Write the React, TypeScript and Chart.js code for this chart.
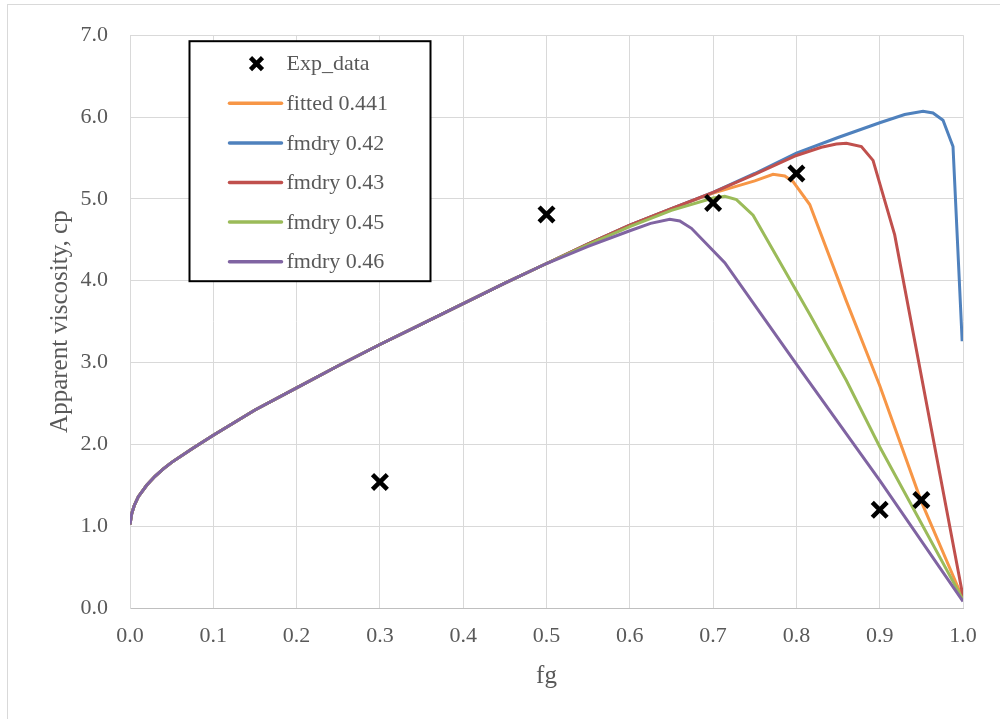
import React, { useEffect, useRef } from "react";
import { Chart, registerables } from "chart.js";

Chart.register(...registerables);

// ---- data ----
const BASE_FG = [0, 0.002, 0.005, 0.01, 0.02, 0.03, 0.04, 0.05, 0.075, 0.1, 0.15, 0.2, 0.25, 0.3, 0.35, 0.4, 0.45, 0.5];
const BASE_VISC = [1.02, 1.15, 1.25, 1.36, 1.5, 1.61, 1.7, 1.78, 1.95, 2.11, 2.42, 2.69, 2.96, 3.22, 3.47, 3.72, 3.97, 4.21];

const EXP_FG = [0.3, 0.5, 0.7, 0.8, 0.9, 0.95];
const EXP_VISC = [1.54, 4.81, 4.95, 5.31, 1.2, 1.32];

const FITTED_FG = [0.55, 0.6, 0.65, 0.7, 0.75, 0.772, 0.786, 0.796, 0.816, 0.86, 0.9, 0.95, 1.0];
const FITTED_VISC = [4.45, 4.68, 4.88, 5.07, 5.22, 5.3, 5.28, 5.21, 4.93, 3.75, 2.72, 1.3, 0.11];

const F042_FG = [0.55, 0.6, 0.65, 0.7, 0.75, 0.8, 0.85, 0.9, 0.93, 0.952, 0.964, 0.976, 0.988, 0.999];
const F042_VISC = [4.45, 4.68, 4.88, 5.08, 5.31, 5.56, 5.75, 5.93, 6.03, 6.07, 6.05, 5.96, 5.64, 3.26];

const F043_FG = [0.55, 0.6, 0.65, 0.7, 0.75, 0.8, 0.83, 0.848, 0.86, 0.878, 0.892, 0.918, 1.0];
const F043_VISC = [4.45, 4.68, 4.88, 5.08, 5.3, 5.53, 5.63, 5.67, 5.68, 5.64, 5.47, 4.56, 0.14];

const F045_FG = [0.55, 0.6, 0.65, 0.7, 0.714, 0.728, 0.748, 0.816, 0.86, 0.9, 1.0];
const F045_VISC = [4.44, 4.66, 4.86, 5.01, 5.03, 4.99, 4.8, 3.59, 2.78, 1.97, 0.1];

const F046_FG = [0.55, 0.6, 0.625, 0.648, 0.66, 0.674, 0.714, 0.8, 0.9, 1.0];
const F046_VISC = [4.42, 4.61, 4.7, 4.75, 4.73, 4.64, 4.22, 2.98, 1.56, 0.08];

const LABELS = ["Exp_data", "fitted 0.441", "fmdry 0.42", "fmdry 0.43", "fmdry 0.45", "fmdry 0.46"];
const COLORS = ["#000000", "#F79646", "#4F81BD", "#C0504D", "#9BBB59", "#8064A2"];

const X_TITLE = "fg";
const Y_TITLE = "Apparent viscosity, cp";

const toPts = (xs: number[], ys: number[]) => xs.map((x, i) => ({ x, y: ys[i] }));
const withBase = (xs: number[], ys: number[]) => toPts([...BASE_FG, ...xs], [...BASE_VISC, ...ys]);

const FONT = "'Liberation Serif', 'Times New Roman', serif";
const TEXT = "#595959";

const legendPlugin = {
  id: "boxLegend",
  afterDraw(chart: any) {
    const { ctx, chartArea } = chart;
    const left = chartArea.left + 59.5;
    const top = chartArea.top + 6;
    const w = 241;
    const h = 240;
    ctx.save();
    ctx.fillStyle = "#ffffff";
    ctx.fillRect(left, top, w, h);
    ctx.strokeStyle = "#000000";
    ctx.lineWidth = 2;
    ctx.strokeRect(left, top, w, h);
    ctx.font = `22px ${FONT}`;
    ctx.textBaseline = "middle";
    ctx.textAlign = "left";
    LABELS.forEach((label, i) => {
      const cy = top + 22.5 + i * 39.6;
      const color = COLORS[i];
      if (i === 0) {
        const cx = left + 67;
        const r = 6;
        ctx.strokeStyle = color;
        ctx.lineWidth = 4.5;
        ctx.lineCap = "butt";
        ctx.beginPath();
        ctx.moveTo(cx - r, cy - r);
        ctx.lineTo(cx + r, cy + r);
        ctx.moveTo(cx - r, cy + r);
        ctx.lineTo(cx + r, cy - r);
        ctx.stroke();
      } else {
        ctx.strokeStyle = color;
        ctx.lineWidth = 3.5;
        ctx.lineCap = "round";
        ctx.beginPath();
        ctx.moveTo(left + 40, cy);
        ctx.lineTo(left + 92, cy);
        ctx.stroke();
      }
      ctx.fillStyle = TEXT;
      ctx.fillText(label, left + 97, cy + 1);
    });
    ctx.restore();
  },
};

export default function App() {
  const ref = useRef<HTMLCanvasElement | null>(null);

  useEffect(() => {
    if (!ref.current) return;
    const lineDs = (idx: number, data: any[]) => ({
      label: LABELS[idx],
      data,
      showLine: true,
      borderColor: COLORS[idx],
      backgroundColor: COLORS[idx],
      borderWidth: 3,
      pointRadius: 0,
      pointHoverRadius: 0,
      tension: 0,
      fill: false,
    });
    const chart = new Chart(ref.current, {
      type: "scatter",
      data: {
        datasets: [
          {
            label: LABELS[0],
            data: toPts(EXP_FG, EXP_VISC),
            showLine: false,
            pointStyle: "crossRot",
            pointRadius: 10.5,
            pointBorderWidth: 4.5,
            borderColor: COLORS[0],
            backgroundColor: COLORS[0],
          },
          lineDs(5, withBase(F046_FG, F046_VISC)),
          lineDs(4, withBase(F045_FG, F045_VISC)),
          lineDs(3, withBase(F043_FG, F043_VISC)),
          lineDs(2, withBase(F042_FG, F042_VISC)),
          lineDs(1, withBase(FITTED_FG, FITTED_VISC)),
        ] as any,
      },
      options: {
        animation: false,
        responsive: false,
        devicePixelRatio: 1,
        layout: { padding: { left: 0, right: 37, top: 33, bottom: 0 } },
        plugins: {
          legend: { display: false },
          tooltip: { enabled: false },
        },
        scales: {
          x: {
            type: "linear",
            min: 0,
            max: 1,
            afterFit: (s: any) => {
              s.height = 111;
            },
            ticks: {
              stepSize: 0.1,
              padding: 15,
              color: TEXT,
              font: { family: FONT, size: 22 },
              callback: (v: any) => Number(v).toFixed(1),
            },
            grid: { color: "#d9d9d9", lineWidth: 1, drawTicks: false },
            border: { color: "#bfbfbf", width: 1 },
            title: {
              display: true,
              text: X_TITLE,
              color: TEXT,
              font: { family: FONT, size: 25 },
              padding: 28,
            },
          },
          y: {
            type: "linear",
            min: 0,
            max: 7,
            afterFit: (s: any) => {
              s.width = 130;
            },
            ticks: {
              stepSize: 1,
              padding: 22,
              color: TEXT,
              font: { family: FONT, size: 22 },
              callback: (v: any) => Number(v).toFixed(1),
            },
            grid: { color: "#d9d9d9", lineWidth: 1, drawTicks: false },
            border: { color: "#d9d9d9", width: 1 },
            title: {
              display: true,
              text: Y_TITLE,
              color: TEXT,
              font: { family: FONT, size: 25 },
              padding: 45,
            },
          },
        },
      } as any,
      plugins: [legendPlugin],
    });
    return () => chart.destroy();
  }, []);

  return (
    <div>
      <div style={{ position: "fixed", left: 0, top: 0, width: 1000, height: 719, background: "#fff" }}>
        <canvas ref={ref} width={1000} height={719} style={{ width: 1000, height: 719, display: "block" }} />
      </div>
      <div
        style={{
          position: "fixed",
          left: 7,
          top: 4,
          width: 1010,
          height: 730,
          border: "1px solid #d9d9d9",
          pointerEvents: "none",
        }}
      />
    </div>
  );
}
